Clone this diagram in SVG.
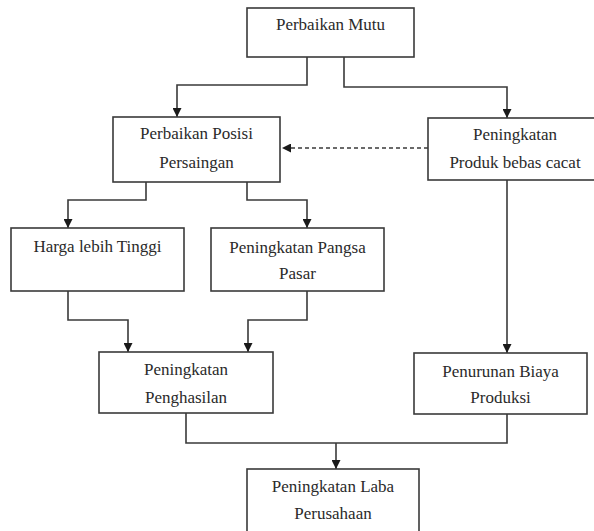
<svg xmlns="http://www.w3.org/2000/svg" width="594" height="531" viewBox="0 0 594 531">
<style>
.box{fill:#fff;stroke:#3a3a3a;stroke-width:1.6}
.t{font-family:"Liberation Serif","Times New Roman",serif;font-size:17px;fill:#2a2a2a;text-anchor:middle}
.c{fill:none;stroke:#3a3a3a;stroke-width:1.6}
.d{stroke-dasharray:4 3}
</style>
<defs>
<marker id="ah" viewBox="0 0 10 10" refX="10" refY="5" markerWidth="9" markerHeight="9" markerUnits="userSpaceOnUse" orient="auto">
<path d="M0,0 L10,5 L0,10 z" fill="#1a1a1a"/>
</marker>
</defs>
<rect width="594" height="531" fill="#fff"/>
<g id="connectors">
<path class="c" d="M307,57 V85 H177 V117" marker-end="url(#ah)"/>
<path class="c" d="M344,57 V87 H507 V118" marker-end="url(#ah)"/>
<path class="c d" d="M428,148 H282" marker-end="url(#ah)"/>
<path class="c" d="M146,182 V200 H68 V228" marker-end="url(#ah)"/>
<path class="c" d="M247,182 V200 H307 V228" marker-end="url(#ah)"/>
<path class="c" d="M507,180 V353" marker-end="url(#ah)"/>
<path class="c" d="M68,291 V320 H128 V352" marker-end="url(#ah)"/>
<path class="c" d="M307,291 V320 H248 V352" marker-end="url(#ah)"/>
<path class="c" d="M186,413 V443 H507 V414"/>
<path class="c" d="M336,443 V469" marker-end="url(#ah)"/>
</g>
<g id="n-mutu">
<rect class="box" x="247" y="8" width="167" height="49"/>
<text class="t" x="330.5" y="30">Perbaikan Mutu</text>
</g>
<g id="n-posisi">
<rect class="box" x="113" y="117" width="167" height="65"/>
<text class="t" x="196.5" y="139">Perbaikan Posisi</text>
<text class="t" x="196.5" y="168">Persaingan</text>
</g>
<g id="n-produk">
<rect class="box" x="428" y="118" width="174" height="62"/>
<text class="t" x="515" y="140">Peningkatan</text>
<text class="t" x="515" y="168">Produk bebas cacat</text>
</g>
<g id="n-harga">
<rect class="box" x="11" y="228" width="173" height="63"/>
<text class="t" x="97.5" y="252">Harga lebih Tinggi</text>
</g>
<g id="n-pangsa">
<rect class="box" x="211" y="228" width="173" height="63"/>
<text class="t" x="297.5" y="253">Peningkatan Pangsa</text>
<text class="t" x="297.5" y="279">Pasar</text>
</g>
<g id="n-penghasilan">
<rect class="box" x="99" y="352" width="174" height="61"/>
<text class="t" x="186" y="375">Peningkatan</text>
<text class="t" x="186" y="403">Penghasilan</text>
</g>
<g id="n-biaya">
<rect class="box" x="414" y="353" width="173" height="61"/>
<text class="t" x="500.5" y="377">Penurunan Biaya</text>
<text class="t" x="500.5" y="403">Produksi</text>
</g>
<g id="n-laba">
<rect class="box" x="247" y="469" width="172" height="75"/>
<text class="t" x="333" y="492">Peningkatan Laba</text>
<text class="t" x="333" y="519">Perusahaan</text>
</g>
</svg>
